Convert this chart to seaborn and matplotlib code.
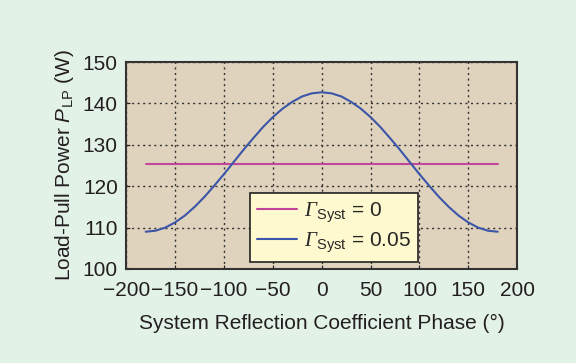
import numpy as np
import pandas as pd
import matplotlib
matplotlib.use("Agg")
import matplotlib.pyplot as plt
import seaborn as sns

# phase (deg) and load-pull power (W)
phase = [-180, -170, -160, -150, -140, -130, -120, -110, -100, -90,
         -80, -70, -60, -50, -40, -30, -20, -10, 0,
         10, 20, 30, 40, 50, 60, 70, 80, 90,
         100, 110, 120, 130, 140, 150, 160, 170, 180]
p_syst_005 = [109.0, 109.25, 110.0, 111.25, 112.9, 115.0, 117.4, 120.1, 122.9, 125.85,
              128.8, 131.6, 134.3, 136.7, 138.75, 140.4, 141.7, 142.45, 142.7,
              142.45, 141.7, 140.4, 138.75, 136.7, 134.3, 131.6, 128.8, 125.85,
              122.9, 120.1, 117.4, 115.0, 112.9, 111.25, 110.0, 109.25, 109.0]
p_syst_0 = [125.4] * len(phase)

# \mathbf is remapped to a serif italic below so that the Gamma is slanted
labels = [r"$\mathbf{\Gamma}_{\mathrm{Syst}}$ = 0",
          r"$\mathbf{\Gamma}_{\mathrm{Syst}}$ = 0.05"]
colors = ["#c2469c", "#3b55a8"]

df = pd.DataFrame({
    "phase": phase * 2,
    "power": p_syst_0 + p_syst_005,
    "case": [labels[0]] * len(phase) + [labels[1]] * len(phase),
})

sns.set_style("ticks")
plt.rcParams["font.family"] = ["Liberation Sans", "DejaVu Sans"]
plt.rcParams["mathtext.fontset"] = "custom"
plt.rcParams["mathtext.rm"] = "Liberation Sans"
plt.rcParams["mathtext.sf"] = "Liberation Sans:italic"
plt.rcParams["mathtext.bf"] = "Liberation Serif:italic"
plt.rcParams["axes.unicode_minus"] = True

fs = 15
fig = plt.figure(figsize=(5.76, 3.63), dpi=100, facecolor="#e3f2e6")
ax = fig.add_axes([0.219, 0.259, 0.679, 0.570])
ax.set_facecolor("#e0d3bd")

sns.lineplot(data=df, x="phase", y="power", hue="case", palette=colors,
             linewidth=1.5, ax=ax)

ax.set_xlim(-200, 200)
ax.set_ylim(100, 150)
ax.set_xticks(np.arange(-200, 201, 50))
ax.set_yticks(np.arange(100, 151, 10))
ax.grid(True, color="#333333", linestyle=(0, (1.5, 2.5)), linewidth=1.0)
ax.tick_params(direction="in", length=3, labelsize=fs, colors="#231f20")
ax.tick_params(axis="y", pad=6)
ax.tick_params(axis="x", pad=8.5)
for s in ax.spines.values():
    s.set_color("#333333")
    s.set_linewidth(1.5)

ax.set_xlabel("System Reflection Coefficient Phase (°)", fontsize=fs,
              color="#231f20", labelpad=10)
ax.set_ylabel(r"Load-Pull Power $\mathsf{P}_{\mathrm{LP}}$ (W)", fontsize=fs,
              color="#231f20", labelpad=5)

leg = ax.legend(loc="lower left", bbox_to_anchor=(0.317, 0.034), fontsize=fs,
                frameon=True, fancybox=False, facecolor="#fff9cf", edgecolor="#222222",
                framealpha=1, handlelength=1.9, handletextpad=0.35,
                borderpad=0.35, labelspacing=0.25, borderaxespad=0)
leg.get_frame().set_linewidth(1.2)

fig.savefig("out.png", dpi=100, facecolor=fig.get_facecolor())
